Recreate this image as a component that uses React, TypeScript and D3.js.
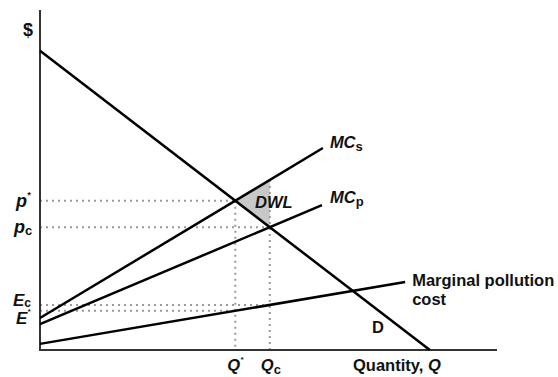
import React from "react";
import * as d3 from "d3";

// Curves as [quantity, dollars] endpoints
const demand: [number, number][] = [[0, 88], [85.3, 0]];
const mcSocial: [number, number][] = [[0, 9.4], [61.9, 59.4]];
const mcPrivate: [number, number][] = [[0, 7.6], [61.7, 42.6]];
const pollution: [number, number][] = [[0, 1.8], [79.9, 20]];

const W = 558;
const H = 377;

function lineAt(l: [number, number][], q: number) {
  const [[x0, y0], [x1, y1]] = l;
  return y0 + ((y1 - y0) / (x1 - x0)) * (q - x0);
}
function intersect(a: [number, number][], b: [number, number][]) {
  const sa = (a[1][1] - a[0][1]) / (a[1][0] - a[0][0]);
  const sb = (b[1][1] - b[0][1]) / (b[1][0] - b[0][0]);
  const ia = a[0][1] - sa * a[0][0];
  const ib = b[0][1] - sb * b[0][0];
  const q = (ib - ia) / (sa - sb);
  return [q, ia + sa * q] as [number, number];
}

export default function App() {
  const x = d3.scaleLinear().domain([0, 100]).range([40, 497]);
  const y = d3.scaleLinear().domain([0, 100]).range([350, 10]);
  const line = d3
    .line<[number, number]>()
    .x((d) => x(d[0]))
    .y((d) => y(d[1]));

  const [qStar, pStar] = intersect(demand, mcSocial);
  const [qC, pC] = intersect(demand, mcPrivate);
  const eStar = lineAt(pollution, qStar);
  const eC = lineAt(pollution, qC);
  const mcsAtQc = lineAt(mcSocial, qC);

  const dwl: [number, number][] = [
    [qStar, pStar],
    [qC, mcsAtQc],
    [qC, pC],
  ];

  const font = "'Liberation Sans', Arial, sans-serif";
  const dot = { stroke: "#9a9a9a", strokeWidth: 2, strokeDasharray: "2 4", fill: "none" };
  const curve = { stroke: "#000", strokeWidth: 2.5, fill: "none" };
  const txt = { fontFamily: font, fontWeight: 700, fontSize: 16.5, fill: "#111" } as const;

  return (
    <svg width={W} height={H} style={{ position: "absolute", left: 0, top: 0, background: "#fff" }}>
      {/* DWL */}
      <path d={line(dwl)! + "Z"} fill="#c8c8c8" stroke="none" />
      {/* dotted guides */}
      <line x1={x(0)} x2={x(qStar)} y1={y(pStar)} y2={y(pStar)} {...dot} />
      <line x1={x(0)} x2={x(qC)} y1={y(pC)} y2={y(pC)} {...dot} />
      <line x1={x(0)} x2={x(qC)} y1={y(eC)} y2={y(eC)} {...dot} />
      <line x1={x(0)} x2={x(qStar)} y1={y(eStar)} y2={y(eStar)} {...dot} />
      <line x1={x(qStar)} x2={x(qStar)} y1={y(pStar)} y2={y(0)} {...dot} />
      <line x1={x(qC)} x2={x(qC)} y1={y(mcsAtQc)} y2={y(0)} {...dot} />
      {/* axes */}
      <line x1={x(0)} x2={x(0)} y1={y(100)} y2={y(0) + 1} stroke="#333" strokeWidth={2} />
      <line x1={x(0) - 1} x2={x(100)} y1={y(0)} y2={y(0)} stroke="#333" strokeWidth={2} />
      {/* curves */}
      <path d={line(demand)!} {...curve} />
      <path d={line(mcSocial)!} {...curve} />
      <path d={line(mcPrivate)!} {...curve} />
      <path d={line(pollution)!} {...curve} />
      {/* labels */}
      <text x={28} y={36} textAnchor="middle" {...txt} fontSize={18}>$</text>
      <text x={16} y={y(pStar) + 6} {...txt} fontStyle="italic" fontSize={18}>
        p<tspan fontSize={9} dy={-9}>*</tspan>
      </text>
      <text x={14} y={y(pC) + 6} {...txt} fontStyle="italic" fontSize={18}>
        p<tspan fontStyle="normal" fontSize={13} dy={2}>c</tspan>
      </text>
      <text x={13} y={y(eC) + 1} {...txt} fontStyle="italic" fontSize={17}>
        E<tspan fontStyle="normal" fontSize={12} dy={1}>c</tspan>
      </text>
      <text x={16} y={y(eStar) + 13} {...txt} fontStyle="italic" fontSize={17}>
        E<tspan fontSize={8} dy={-10}>*</tspan>
      </text>
      <text x={x(mcSocial[1][0]) + 7} y={y(mcSocial[1][1]) + 0} {...txt} fontStyle="italic">
        MC<tspan fontStyle="normal" fontSize={13} dy={3}>s</tspan>
      </text>
      <text x={x(mcPrivate[1][0]) + 8} y={y(mcPrivate[1][1]) - 2} {...txt} fontStyle="italic">
        MC<tspan fontStyle="normal" fontSize={13} dy={3}>p</tspan>
      </text>
      <text x={255} y={208} {...txt} fontStyle="italic">DWL</text>
      <text x={x(pollution[1][0]) + 7} y={y(pollution[1][1]) + 4} {...txt}>
        Marginal pollution
      </text>
      <text x={x(pollution[1][0]) + 7} y={y(pollution[1][1]) + 23} {...txt}>
        cost
      </text>
      <text x={372} y={333} {...txt}>D</text>
      <text x={x(qStar) - 8} y={371} {...txt} fontStyle="italic">
        Q<tspan fontSize={8} dy={-9}>*</tspan>
      </text>
      <text x={x(qC) - 9} y={371} {...txt} fontStyle="italic">
        Q<tspan fontStyle="normal" fontSize={13} dy={3}>c</tspan>
      </text>
      <text x={353} y={371} {...txt}>
        Quantity, <tspan fontStyle="italic">Q</tspan>
      </text>
    </svg>
  );
}
